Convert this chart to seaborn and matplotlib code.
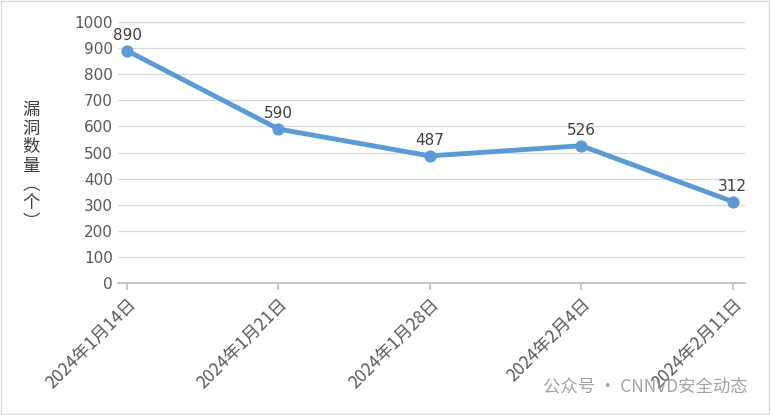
import matplotlib
matplotlib.use("Agg")
import matplotlib.pyplot as plt
import seaborn as sns
import pandas as pd

dates = ["2024年1月14日", "2024年1月21日", "2024年1月28日", "2024年2月4日", "2024年2月11日"]
counts = [890, 590, 487, 526, 312]
yticks = list(range(0, 1001, 100))

sns.set_theme(style="white")
plt.rcParams['font.family'] = ['DejaVu Sans', 'Noto Sans CJK SC']
cjk = ['Noto Sans CJK SC', 'DejaVu Sans']

df = pd.DataFrame({"x": range(len(dates)), "y": counts})
fig = plt.figure(figsize=(7.71, 4.15), dpi=100)
ax = fig.add_axes([0.153, 0.318, 0.813, 0.629])
for y in yticks[1:]:
    ax.axhline(y, color="#D9D9D9", lw=0.9, zorder=0)
sns.lineplot(data=df, x="x", y="y", ax=ax, color="#5B9BD5", lw=3.5,
             marker="o", markersize=8, markeredgecolor="#5B9BD5")
for i, v in enumerate(counts):
    ax.text(i, v + 30, str(v), ha="center", va="bottom", fontsize=11, color="#404040")
ax.set_xlim(-0.06, 4.08)
ax.set_ylim(0, 1000)
ax.set_yticks(yticks)
ax.set_yticklabels([str(t) for t in yticks], fontsize=11, color="#595959")
ax.set_xticks(range(len(dates)))
ax.set_xticklabels(dates, rotation=45, ha="right", rotation_mode="anchor", fontsize=12.5,
                   color="#595959", family=cjk)
ax.tick_params(axis="x", length=5, color="#BFBFBF", bottom=True)
ax.tick_params(axis="y", length=0)
for s in ["top", "right", "left"]:
    ax.spines[s].set_visible(False)
ax.spines["bottom"].set_color("#BFBFBF")
ax.set_xlabel("")
ax.set_ylabel("")
fig.text(0.04, 0.6, "\n".join("漏洞数量︵个︶"), ha="center", va="center", fontsize=12.5,
         color="#404040", linespacing=1.05, family=cjk)
fig.text(0.97, 0.07, "公众号 · CNNVD安全动态", ha="right", va="center", fontsize=12.5,
         color="#8C8C8C", alpha=0.8, family=cjk)
fig.patches.append(plt.Rectangle((0.001, 0.002), 0.997, 0.995, transform=fig.transFigure,
                                 fill=False, edgecolor="#D9D9D9", lw=1))
fig.savefig("out.png", dpi=100)
